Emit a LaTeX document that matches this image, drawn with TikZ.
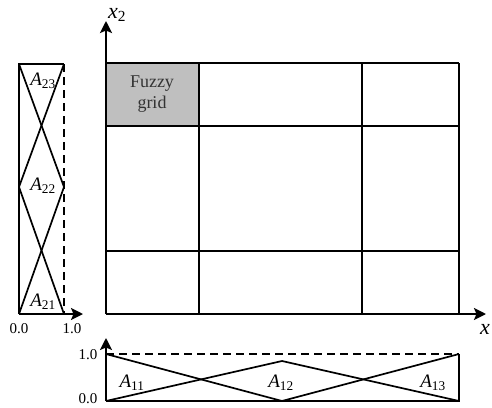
\documentclass[tikz,border=0pt]{standalone}
\usepackage{fontspec}
\setmainfont{Liberation Serif}
\usetikzlibrary{arrows.meta}
\newcommand{\memb}[1]{\textit{A}\textsubscript{#1}}

\begin{document}
\begin{tikzpicture}[x=1pt, y=-1pt, >={Stealth[length=12pt,width=12pt,inset=2.5pt]},
    axis/.style={line width=2.8pt},
    gridline/.style={line width=1.4pt},
    mfline/.style={line width=1.7pt},
    mfdash/.style={line width=1.7pt, dash pattern=on 8pt off 5pt},
    tick/.style={font=\fontsize{15}{17}\selectfont, inner sep=0pt},
    mlabel/.style={font=\fontsize{19}{21}\selectfont, inner sep=0pt},
    axlabel/.style={font=\fontsize{22}{24}\selectfont, inner sep=0pt}]
  \useasboundingbox (0,0) rectangle (492,407);
  % main grid
  \coordinate (O) at (106,314);
  \coordinate (Ytip) at (106,21);
  \coordinate (Xtip) at (486,314);
  \fill[black!25] (106,63) rectangle (199,126);
  \draw[gridline] (106,63) -- (459,63) (106,126) -- (459,126) (106,251) -- (459,251);
  \draw[gridline] (199,63) -- (199,314) (362,63) -- (362,314) (459,63) -- (459,314);
  \draw[axis,->] (O) -- (Ytip);
  \draw[axis,->] (O) -- (Xtip);
  \node[axlabel] (x2) at (117,15) {\textit{x}\textsubscript{2}};
  \node[axlabel] (x1) at (485,329) {\textit{x}};
  \node[font=\fontsize{18}{21}\selectfont, text=black!80, align=center] (fg) at (152,94) {Fuzzy\\grid};
  % left panel (x2)
  \coordinate (LB) at (19,314);
  \coordinate (LT) at (19,64);
  \coordinate (RT) at (64,64);
  \coordinate (RB) at (64,314);
  \coordinate (LM) at (19,187);
  \coordinate (RM) at (64,187);
  \coordinate (Ltip) at (83,314);
  \draw[mfline] (RT) -- (LT) -- (LB);
  \draw[mfline,->] (LB) -- (Ltip);
  \draw[mfdash] (RT) -- (RB);
  \draw[mfline] (RT) -- (LM) -- (RB);
  \draw[mfline] (LT) -- (RM) -- (LB);
  \node[mlabel] (a23) at (43,81) {\memb{23}};
  \node[mlabel] (a22) at (43,186) {\memb{22}};
  \node[mlabel] (a21) at (43,302) {\memb{21}};
  \node[tick] (l0) at (19,329) {0.0};
  \node[tick] (l1) at (72,329) {1.0};
  % bottom panel (x1)
  \coordinate (BL) at (106,401);
  \coordinate (TL) at (106,354);
  \coordinate (TR) at (459,354);
  \coordinate (BR) at (459,401);
  \coordinate (BM) at (282,401);
  \coordinate (PK) at (282,361);
  \coordinate (Btip) at (106,338);
  \draw[mfline,->] (BL) -- (Btip);
  \draw[mfline] (BL) -- (BR) -- (TR);
  \draw[mfdash] (TL) -- (TR);
  \draw[mfline] (TL) -- (BM) -- (TR);
  \draw[mfline] (BL) -- (PK) -- (BR);
  \node[mlabel] (a11) at (132,383) {\memb{11}};
  \node[mlabel] (a12) at (281,383) {\memb{12}};
  \node[mlabel] (a13) at (433,383) {\memb{13}};
  \node[tick] (b1) at (88,355) {1.0};
  \node[tick] (b0) at (88,399) {0.0};
\end{tikzpicture}
\end{document}
